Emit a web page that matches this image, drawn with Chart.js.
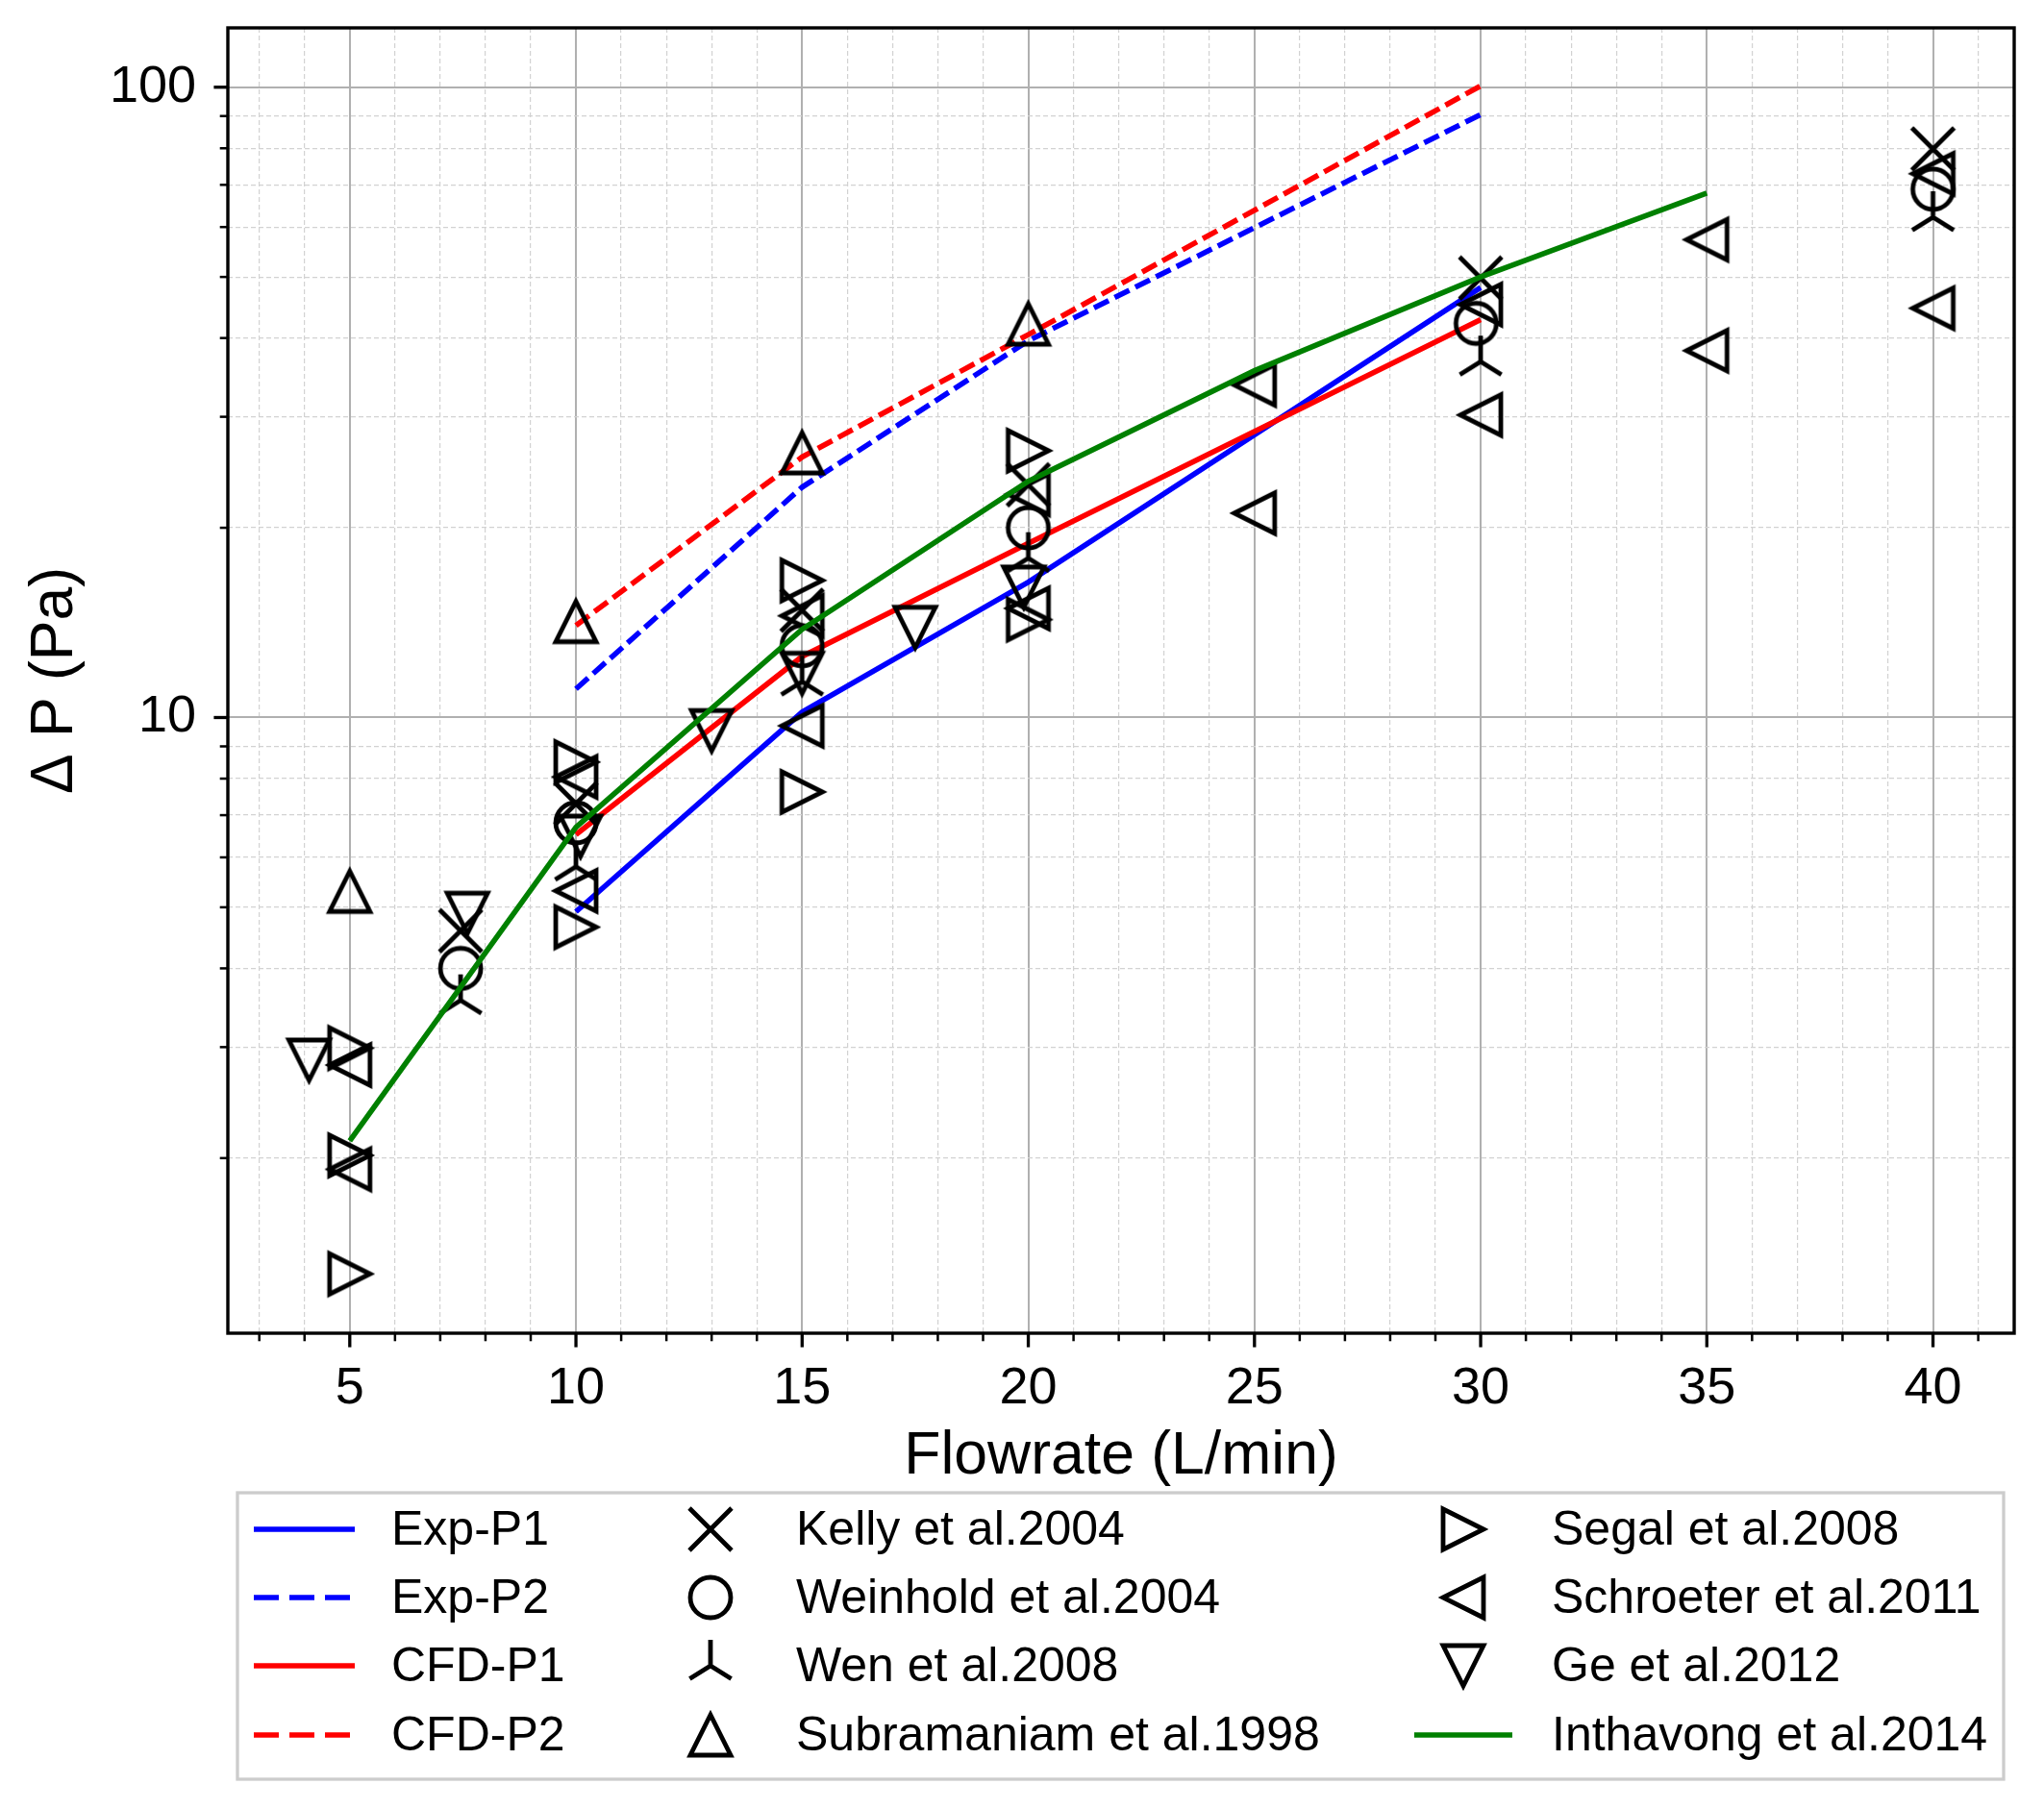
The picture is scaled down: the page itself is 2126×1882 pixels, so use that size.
<!DOCTYPE html>
<html>
<head>
<meta charset="utf-8">
<script src="https://cdn.jsdelivr.net/npm/chart.js@4.4.1/dist/chart.umd.min.js"></script>
<style>
  html, body { margin: 0; padding: 0; background: #fff; }
  #wrap { width: 2126px; height: 1882px; position: relative; }
</style>
</head>
<body>
<div id="wrap"><canvas id="chart"></canvas></div>
<script>
// values: flowrate (L/min) vs pressure drop (Pa)
const lineX = [10, 15, 20, 30];
const expP1 = [4.92, 10.2, 16.4, 48.1];
const expP2 = [11.1, 23.2, 39.6, 90.5];
const cfdP1 = [6.52, 12.5, 18.9, 42.8];
const cfdP2 = [14.0, 25.9, 40.5, 100.5];

const kellyX = [7.45, 10, 15, 20, 30, 40];
const kellyY = [4.59, 7.3, 14.8, 23.4, 49.8, 79.8];
const weinholdX = [7.45, 10, 15, 20, 29.9, 40];
const weinholdY = [4.0, 6.81, 13.0, 20.0, 42.2, 68.9];
const wenX = [7.45, 10, 15, 20, 30, 40];
const wenY = [3.56, 5.80, 11.4, 17.9, 36.7, 62.2];
const subraX = [5, 10, 15, 20];
const subraY = [5.3, 14.2, 26.3, 42.1];
const segalX = [5, 5, 5, 10, 10, 15, 15, 20, 20];
const segalY = [2.99, 2.02, 1.31, 8.5, 4.65, 16.5, 7.62, 26.5, 14.3];
const schroeterX = [5, 5, 10, 10, 15, 15, 20, 20, 25, 25, 30, 30, 35, 35, 40, 40];
const schroeterY = [2.81, 1.92, 8.05, 5.31, 14.5, 9.70, 22.6, 14.9, 33.7, 21.1, 45.2, 30.2, 57.3, 38.2, 72.9, 44.6];
const geX = [4.1, 7.6, 10.1, 13, 15, 17.5, 19.9];
const geY = [2.86, 4.89, 6.48, 9.53, 11.75, 13.9, 16.1];
const inthavongX = [5, 10, 15, 20, 25, 30, 35];
const inthavongY = [2.13, 6.7, 13.8, 23.7, 35.5, 50.0, 67.9];

// axis ticks
const xMajor = [5, 10, 15, 20, 25, 30, 35, 40];
const xMinor = [3, 4, 6, 7, 8, 9, 11, 12, 13, 14, 16, 17, 18, 19, 21, 22, 23, 24,
                26, 27, 28, 29, 31, 32, 33, 34, 36, 37, 38, 39, 41];
const yMajor = [10, 100];
const yMinor = [2, 3, 4, 5, 6, 7, 8, 9, 20, 30, 40, 50, 60, 70, 80, 90];

const FONT = "'Liberation Sans', Arial, Helvetica, sans-serif";
Chart.defaults.font.family = FONT;
Chart.defaults.color = '#000';

function pts(xs, ys) {
  return xs.map(function (x, i) { return { x: x, y: ys[i] }; });
}

// matplotlib-like hollow markers drawn once onto small canvases
function makeMarker(kind, size) {
  var S = Math.ceil(size + 16);
  if (S % 2) S++;
  var c = document.createElement('canvas');
  c.width = S; c.height = S;
  var g = c.getContext('2d');
  g.translate(S / 2, S / 2);
  g.strokeStyle = '#000';
  g.lineWidth = 4.8;
  g.lineJoin = 'miter';
  g.lineCap = 'butt';
  var h = size / 2;
  g.beginPath();
  if (kind === 'x') {
    g.moveTo(-h, -h); g.lineTo(h, h);
    g.moveTo(-h, h); g.lineTo(h, -h);
  } else if (kind === 'o') {
    g.arc(0, 0, h, 0, Math.PI * 2);
  } else if (kind === 'tri') {
    g.moveTo(0, 0); g.lineTo(0, -h);
    g.moveTo(0, 0); g.lineTo(0.8 * h, 0.5 * h);
    g.moveTo(0, 0); g.lineTo(-0.8 * h, 0.5 * h);
  } else if (kind === '^') {
    g.moveTo(0, -h); g.lineTo(-h, h); g.lineTo(h, h); g.closePath();
  } else if (kind === 'v') {
    g.moveTo(0, h); g.lineTo(-h, -h); g.lineTo(h, -h); g.closePath();
  } else if (kind === '>') {
    g.moveTo(h, 0); g.lineTo(-h, -h); g.lineTo(-h, h); g.closePath();
  } else if (kind === '<') {
    g.moveTo(-h, 0); g.lineTo(h, -h); g.lineTo(h, h); g.closePath();
  }
  g.stroke();
  return c;
}

var MS = 42;
var markers = {
  kelly: makeMarker('x', 44),
  weinhold: makeMarker('o', MS),
  wen: makeMarker('tri', 54),
  subra: makeMarker('^', MS),
  segal: makeMarker('>', MS),
  schroeter: makeMarker('<', MS),
  ge: makeMarker('v', MS)
};

var LW = 5.6;
var DASH = [17, 7];

function lineSet(label, xs, ys, color, dashed) {
  return {
    label: label, data: pts(xs, ys), showLine: true,
    borderColor: color, backgroundColor: color, borderWidth: LW,
    borderDash: dashed ? DASH : [], pointRadius: 0, pointHoverRadius: 0,
    tension: 0, fill: false
  };
}
function markSet(label, xs, ys, img) {
  return {
    label: label, data: pts(xs, ys), showLine: false,
    pointStyle: img, pointRadius: 20, pointHoverRadius: 20,
    borderColor: '#000', backgroundColor: 'rgba(0,0,0,0)'
  };
}

var datasets = [
  lineSet('Exp-P1', lineX, expP1, '#0000ff', false),
  lineSet('Exp-P2', lineX, expP2, '#0000ff', true),
  lineSet('CFD-P1', lineX, cfdP1, '#ff0000', false),
  lineSet('CFD-P2', lineX, cfdP2, '#ff0000', true),
  markSet('Kelly et al.2004', kellyX, kellyY, markers.kelly),
  markSet('Weinhold et al.2004', weinholdX, weinholdY, markers.weinhold),
  markSet('Wen et al.2008', wenX, wenY, markers.wen),
  markSet('Subramaniam et al.1998', subraX, subraY, markers.subra),
  markSet('Segal et al.2008', segalX, segalY, markers.segal),
  markSet('Schroeter et al.2011', schroeterX, schroeterY, markers.schroeter),
  markSet('Ge et al.2012', geX, geY, markers.ge),
  lineSet('Inthavong et al.2014', inthavongX, inthavongY, '#008000', false)
];
// later datasets on top, like the original plotting order
datasets.forEach(function (d, i) { d.order = datasets.length - i; });

function isMajorX(v) { return xMajor.indexOf(v) >= 0; }
function isMajorY(v) { return yMajor.indexOf(v) >= 0; }

// frame and outward ticks (major long, minor short)
var frameAndTicks = {
  id: 'frameAndTicks',
  afterDraw: function (chart) {
    var ctx = chart.ctx, a = chart.chartArea;
    var xs = chart.scales.x, ys = chart.scales.y;
    ctx.save();
    ctx.strokeStyle = '#000';
    ctx.lineCap = 'butt';
    function seg(x1, y1, x2, y2, w) {
      ctx.lineWidth = w;
      ctx.beginPath(); ctx.moveTo(x1, y1); ctx.lineTo(x2, y2); ctx.stroke();
    }
    xMajor.forEach(function (v) { var p = xs.getPixelForValue(v); seg(p, a.bottom, p, a.bottom + 14.6, 3.3); });
    xMinor.forEach(function (v) { var p = xs.getPixelForValue(v); seg(p, a.bottom, p, a.bottom + 8.3, 2.5); });
    yMajor.forEach(function (v) { var p = ys.getPixelForValue(v); seg(a.left, p, a.left - 14.6, p, 3.3); });
    yMinor.forEach(function (v) { var p = ys.getPixelForValue(v); seg(a.left, p, a.left - 8.3, p, 2.5); });
    ctx.lineWidth = 3.4;
    ctx.strokeRect(a.left, a.top, a.right - a.left, a.bottom - a.top);
    ctx.restore();
  }
};

// three-column legend under the axes
var boxLegend = {
  id: 'boxLegend',
  afterDraw: function (chart) {
    var ctx = chart.ctx;
    var box = { l: 247, t: 1553, r: 2084, b: 1851 };
    var rows = [1591, 1662, 1733, 1805];
    var cols = [
      { x0: 264, x1: 369, tx: 407, items: [0, 1, 2, 3] },
      { x0: 687, x1: 791, tx: 828, items: [4, 5, 6, 7] },
      { x0: 1471, x1: 1573, tx: 1614, items: [8, 9, 10, 11] }
    ];
    ctx.save();
    ctx.fillStyle = '#fff';
    ctx.fillRect(box.l, box.t, box.r - box.l, box.b - box.t);
    ctx.strokeStyle = '#cccccc';
    ctx.lineWidth = 3.3;
    ctx.strokeRect(box.l, box.t, box.r - box.l, box.b - box.t);
    ctx.font = '50px ' + FONT;
    ctx.textBaseline = 'middle';
    ctx.textAlign = 'left';
    cols.forEach(function (col) {
      col.items.forEach(function (di, r) {
        var ds = chart.data.datasets[di];
        var y = rows[r];
        if (ds.showLine) {
          ctx.strokeStyle = ds.borderColor;
          ctx.lineWidth = LW;
          ctx.setLineDash(ds.borderDash && ds.borderDash.length ? [26, 11] : []);
          ctx.beginPath(); ctx.moveTo(col.x0, y); ctx.lineTo(col.x1, y); ctx.stroke();
          ctx.setLineDash([]);
        } else {
          var img = ds.pointStyle;
          ctx.drawImage(img, (col.x0 + col.x1) / 2 - img.width / 2, y - img.height / 2);
        }
        ctx.fillStyle = '#000';
        ctx.fillText(ds.label, col.tx, y + 2);
      });
    });
    ctx.restore();
  }
};

new Chart(document.getElementById('chart').getContext('2d'), {
  type: 'scatter',
  data: { datasets: datasets },
  plugins: [frameAndTicks, boxLegend],
  options: {
    responsive: true,
    maintainAspectRatio: false,
    devicePixelRatio: 1,
    animation: false,
    events: [],
    layout: { padding: { left: 0, top: 29, right: 31, bottom: 329 } },
    plugins: { legend: { display: false }, tooltip: { enabled: false } },
    scales: {
      x: {
        type: 'linear',
        min: 2.305, max: 41.795,
        bounds: 'data',
        afterBuildTicks: function (axis) {
          axis.ticks = xMajor.concat(xMinor).sort(function (a, b) { return a - b; })
            .map(function (v) { return { value: v }; });
        },
        afterFit: function (axis) {
          axis.height = 166;
          axis.paddingLeft = 0; axis.paddingRight = 0;
        },
        ticks: {
          autoSkip: false, maxRotation: 0, padding: 26,
          font: { size: 54 }, color: '#000',
          callback: function (v) { return isMajorX(v) ? String(v) : ''; }
        },
        grid: {
          drawTicks: false,
          color: function (c) { return c.tick && isMajorX(c.tick.value) ? '#b0b0b0' : '#d2d2d2'; },
          lineWidth: function (c) { return c.tick && isMajorX(c.tick.value) ? 2 : 1.2; }
        },
        border: {
          display: false,
          dash: function (c) { return c.tick && !isMajorX(c.tick.value) ? [5, 3] : []; }
        },
        title: {
          display: true, text: 'Flowrate (L/min)', color: '#000',
          font: { size: 62.5 }, padding: { top: 0, bottom: 0 }
        }
      },
      y: {
        type: 'logarithmic',
        min: 1.055, max: 124.2,
        bounds: 'data',
        afterBuildTicks: function (axis) {
          axis.ticks = yMinor.concat(yMajor).sort(function (a, b) { return a - b; })
            .map(function (v) { return { value: v }; });
        },
        afterFit: function (axis) {
          axis.width = 237;
          axis.paddingTop = 0; axis.paddingBottom = 0;
        },
        ticks: {
          autoSkip: false, padding: 33,
          font: { size: 54 }, color: '#000',
          callback: function (v) { return isMajorY(v) ? String(v) : ''; }
        },
        grid: {
          drawTicks: false,
          color: function (c) { return c.tick && isMajorY(c.tick.value) ? '#b0b0b0' : '#d2d2d2'; },
          lineWidth: function (c) { return c.tick && isMajorY(c.tick.value) ? 2 : 1.2; }
        },
        border: {
          display: false,
          dash: function (c) { return c.tick && !isMajorY(c.tick.value) ? [5, 3] : []; }
        },
        title: {
          display: true, text: 'Δ P (Pa)', color: '#000',
          font: { size: 62.5 }, padding: { top: 20, bottom: 0 }
        }
      }
    }
  }
});
</script>
</body>
</html>
